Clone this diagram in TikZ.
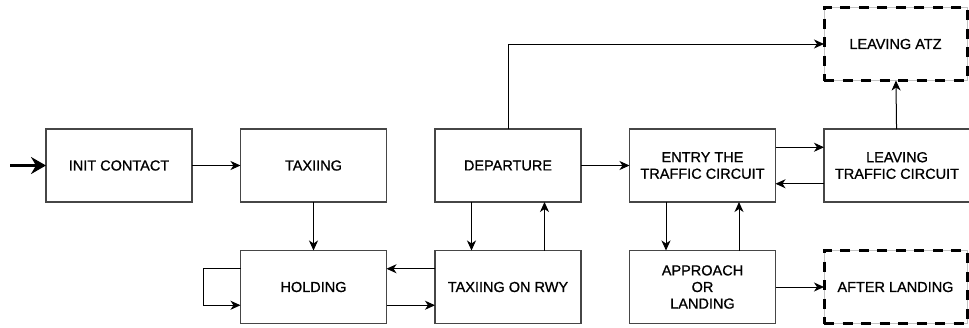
\documentclass[tikz,border=0pt]{standalone}
\usepackage{fontspec}
\setmainfont{Liberation Sans}
\newfontfamily\boxfont{Liberation Sans}[FakeBold=0.9]
\usetikzlibrary{positioning, arrows.meta}

\definecolor{boxcolor}{RGB}{70,70,70}
\definecolor{edgecolor}{RGB}{195,195,195}

\begin{document}
\begin{tikzpicture}[x=1pt, y=1pt, node distance={48.5pt}, line width=1pt,
	>={Stealth[length=10pt, width=9pt, inset=3pt]},
	main/.style = {draw=boxcolor, line width=1.3pt, outer sep=0pt, minimum width=146pt, minimum height=73pt, inner sep=0pt, align=center, font=\boxfont\fontsize{14.5}{16.6}\selectfont},
	exit/.style = {main, draw=edgecolor, line width=0.8pt, minimum width=143pt, xshift=-1.5pt, postaction={draw=black, line width=3pt, dash pattern=on 10pt off 8.5pt}}]
	\useasboundingbox (0,0) rectangle (969,-327);

	\node[main] (Init) at (119,-165.5) {INIT CONTACT};
	\node[main] (Taxiing) [right=of Init] {TAXIING};
	\node[main] (Departure) [right=of Taxiing] {DEPARTURE};
	\node[main] (Entry) [right=of Departure] {ENTRY THE\\TRAFFIC CIRCUIT};
	\node[main] (Leaving) [right=of Entry] {LEAVING\\TRAFFIC CIRCUIT};

	\node[main] (Holding) [below=of Taxiing] {HOLDING};
	\node[main] (Runway) [below=of Departure] {TAXIING ON RWY};
	\node[main] (Approach) [below=of Entry] {APPROACH\\OR\\LANDING};

	\node[exit] (ATZ) [above=of Leaving] {LEAVING ATZ};
	\node[exit] (Landed) [below=of Leaving] {AFTER LANDING};

	\coordinate (Start) at (10,-165.5);
	\draw[-{Stealth[length=15pt, width=17pt, inset=5pt]}, line width=3pt] (Start) -- (Init);

	\draw[->] (Init) -- (Taxiing);
	\draw[->] (Taxiing) -- (Holding);
	\draw[->] (Departure) -- (Entry);
	\draw[->] (Leaving) -- (ATZ);
	\draw[->] (Approach) -- (Landed);
	\draw[->] (Departure.north) |- (ATZ.west);

	\draw[->] ([yshift=18.25pt]Runway.west) -- ([yshift=18.25pt]Holding.east);
	\draw[->] ([yshift=-18.25pt]Holding.east) -- ([yshift=-18.25pt]Runway.west);
	\draw[->] ([yshift=18.25pt]Holding.west) -- ++(-37,0) |- ([yshift=-18.25pt]Holding.west);

	\draw[->] ([xshift=-36.5pt]Departure.south) -- ([xshift=-36.5pt]Runway.north);
	\draw[->] ([xshift=36.5pt]Runway.north) -- ([xshift=36.5pt]Departure.south);

	\draw[->] ([yshift=18.25pt]Entry.east) -- ([yshift=18.25pt]Leaving.west);
	\draw[->] ([yshift=-18.25pt]Leaving.west) -- ([yshift=-18.25pt]Entry.east);

	\draw[->] ([xshift=-36.5pt]Entry.south) -- ([xshift=-36.5pt]Approach.north);
	\draw[->] ([xshift=36.5pt]Approach.north) -- ([xshift=36.5pt]Entry.south);
\end{tikzpicture}
\end{document}
